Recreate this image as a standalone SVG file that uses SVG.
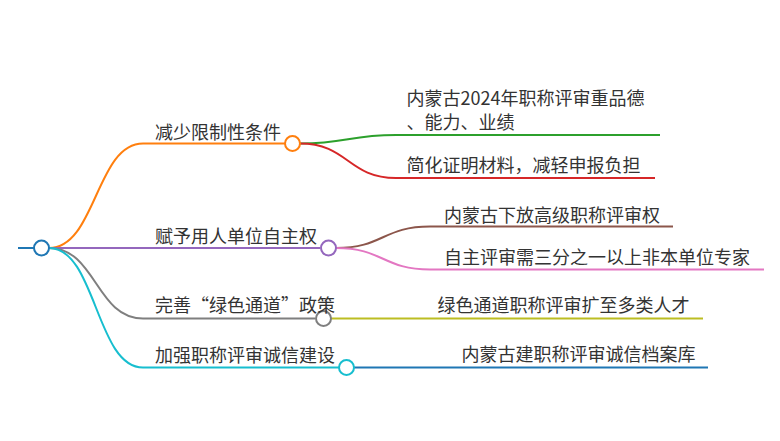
<svg xmlns="http://www.w3.org/2000/svg" width="780" height="441" viewBox="0 0 780 441">
<style>
.t{font-family:"Noto Sans CJK SC","Noto Sans",sans-serif;font-size:18px;fill:#333}
.l{fill:none;stroke-width:2}
.c{fill:#fff;stroke-width:2}
</style>
<rect width="780" height="441" fill="#fff"/>
<g id="connectors">
<path class="l" stroke="#1f77b4" stroke-width="3" d="M18,248H34"/>
<path class="l" stroke="#ff7f0e" d="M49,248C96,248 96,143.5 143,143.5H285"/>
<path class="l" stroke="#9467bd" d="M49,248H320"/>
<path class="l" stroke="#7f7f7f" d="M49,248C96,248 96,318.5 143,318.5H315"/>
<path class="l" stroke="#17becf" d="M49,248C96,248 96,367.5 143,367.5H339"/>
<path class="l" stroke="#2ca02c" d="M300,143.5C348,143.5 348,135 396,135H660"/>
<path class="l" stroke="#d62728" d="M300,143.5C348,143.5 348,178 396,178H655"/>
<path class="l" stroke="#8c564b" d="M336,248C383,248 383,226.5 430,226.5H673"/>
<path class="l" stroke="#e377c2" d="M336,248C383,248 383,269.5 430,269.5H764"/>
<path class="l" stroke="#bcbd22" d="M331,318.5H703"/>
<path class="l" stroke="#1f77b4" d="M354,367.5H708"/>
</g>
<g id="root"><circle class="c" stroke="#1f77b4" cx="41.5" cy="248" r="7.5"/></g>
<g id="n1"><circle class="c" stroke="#ff7f0e" cx="292.5" cy="143.5" r="7.5"/><text class="t" x="155" y="139">减少限制性条件</text></g>
<g id="n2"><circle class="c" stroke="#9467bd" cx="328.5" cy="248" r="7.5"/><text class="t" x="155" y="243">赋予用人单位自主权</text></g>
<g id="n3"><circle class="c" stroke="#7f7f7f" cx="323.5" cy="318.5" r="7.5"/><text class="t" x="155" y="312">完善“绿色通道”政策</text></g>
<g id="n4"><circle class="c" stroke="#17becf" cx="346.5" cy="367.5" r="7.5"/><text class="t" x="155" y="362">加强职称评审诚信建设</text></g>
<g id="n1a"><text class="t" x="406.5" y="105">内蒙古2024年职称评审重品德</text><text class="t" x="406.5" y="129">、能力、业绩</text></g>
<g id="n1b"><text class="t" x="406.5" y="172">简化证明材料，减轻申报负担</text></g>
<g id="n2a"><text class="t" x="444" y="222">内蒙古下放高级职称评审权</text></g>
<g id="n2b"><text class="t" x="444" y="264">自主评审需三分之一以上非本单位专家</text></g>
<g id="n3a"><text class="t" x="437.5" y="312">绿色通道职称评审扩至多类人才</text></g>
<g id="n4a"><text class="t" x="461.5" y="361">内蒙古建职称评审诚信档案库</text></g>
</svg>
